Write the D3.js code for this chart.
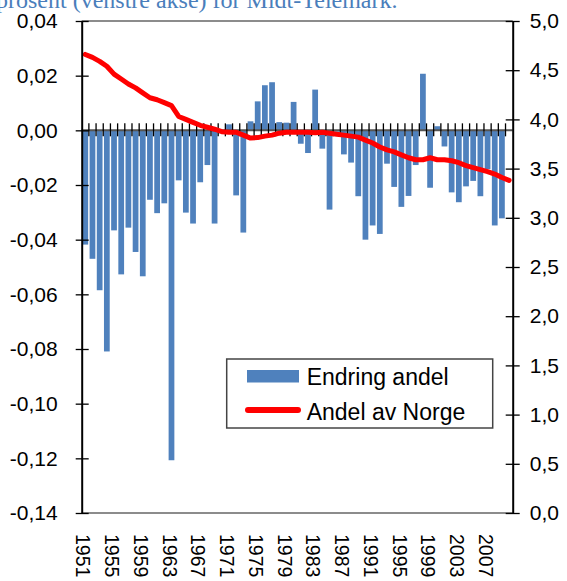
<!DOCTYPE html>
<html>
<head>
<meta charset="utf-8">
<script src="https://cdn.jsdelivr.net/npm/d3@7"></script>
<style>
  body { margin: 0; background: #fff; }
  svg { display: block; }
</style>
</head>
<body>
<div id="chart"></div>
<script>
const years = [1951, 1952, 1953, 1954, 1955, 1956, 1957, 1958, 1959, 1960,
    1961, 1962, 1963, 1964, 1965, 1966, 1967, 1968, 1969, 1970,
    1971, 1972, 1973, 1974, 1975, 1976, 1977, 1978, 1979, 1980,
    1981, 1982, 1983, 1984, 1985, 1986, 1987, 1988, 1989, 1990,
    1991, 1992, 1993, 1994, 1995, 1996, 1997, 1998, 1999, 2000,
    2001, 2002, 2003, 2004, 2005, 2006, 2007, 2008, 2009, 2010]

// endring andel (venstre akse)
const endring = [-0.0418, -0.047, -0.0585, -0.0809, -0.0366, -0.0527, -0.0356, -0.0445, -0.0534, -0.0254,
    -0.0303, -0.0267, -0.1207, -0.0183, -0.0301, -0.0341, -0.019, -0.0127, -0.0341, -0.001,
    0.0022, -0.0238, -0.0374, 0.0033, 0.0106, 0.0165, 0.0176, 0.003, 0.0028, 0.0104,
    -0.0049, -0.0083, 0.0149, -0.0067, -0.029, -0.0005, -0.0088, -0.0118, -0.0241, -0.040,
    -0.0348, -0.0379, -0.0122, -0.0207, -0.028, -0.024, -0.0127, 0.0207, -0.021, 0.0015,
    -0.0059, -0.0227, -0.0263, -0.0205, -0.0185, -0.0241, -0.0142, -0.0348, -0.0322, null]

// andel av Norge (høyre akse)
const andel = [4.66, 4.63, 4.59, 4.54, 4.46, 4.41, 4.36, 4.32, 4.27, 4.22,
    4.20, 4.17, 4.14, 4.03, 4.00, 3.97, 3.94, 3.92, 3.90, 3.875,
    3.87, 3.87, 3.84, 3.81, 3.815, 3.83, 3.84, 3.86, 3.87, 3.87,
    3.87, 3.87, 3.865, 3.87, 3.86, 3.85, 3.84, 3.83, 3.82, 3.79,
    3.76, 3.72, 3.69, 3.67, 3.64, 3.61, 3.59, 3.59, 3.61, 3.59,
    3.59, 3.58, 3.56, 3.53, 3.51, 3.49, 3.47, 3.445, 3.41, 3.38]

const leftTicks = [-0.14, -0.12, -0.10, -0.08, -0.06, -0.04, -0.02, 0, 0.02, 0.04]
const rightTicks = [0, 0.5, 1, 1.5, 2, 2.5, 3, 3.5, 4, 4.5, 5]
const yearLabels = [1951, 1955, 1959, 1963, 1967, 1971, 1975, 1979, 1983, 1987, 1991, 1995, 1999, 2003, 2007]

const titleText = "prosent (venstre akse) for Midt-Telemark."
const seriesNames = ["Endring andel", "Andel av Norge"]

const W = 567, H = 581
const pLeft = 81.7, pRight = 512.7, pTop = 21, pBottom = 513
const font = "'Liberation Sans', Arial, sans-serif"

const no = d3.formatLocale({decimal: ",", thousands: " ", grouping: [3], currency: ["", " kr"], minus: "-"})

let svg = d3.select("#chart")
    .append("svg")
    .attr("width", W)
    .attr("height", H)

let x = d3.scaleBand()
    .domain(years)
    .range([pLeft, pRight])
    .paddingInner(0.2)
    .paddingOuter(0.1)

let yL = d3.scaleLinear()
    .domain([-0.14, 0.04])
    .range([pBottom, pTop])

let yR = d3.scaleLinear()
    .domain([0, 5])
    .range([pBottom, pTop])

// title, cut at top of picture
svg.append("text")
    .attr("x", -4)
    .attr("y", 8)
    .attr("fill", "#4a7ebb")
    .style("font-family", "'Liberation Serif', 'Times New Roman', serif")
    .style("font-size", "24px")
    .text(titleText)

// plot border top / bottom
svg.append("line")
    .attr("x1", pLeft).attr("x2", pRight)
    .attr("y1", pTop).attr("y2", pTop)
    .attr("stroke", "#8c8c8c").attr("stroke-width", 2)
svg.append("line")
    .attr("x1", pLeft).attr("x2", pRight)
    .attr("y1", pBottom).attr("y2", pBottom)
    .attr("stroke", "#8c8c8c").attr("stroke-width", 2)

// bars
svg.append("g")
    .selectAll("rect")
    .data(years.map((yr, i) => ({yr: yr, v: endring[i]})).filter(d => d.v != null))
    .join("rect")
    .attr("x", d => x(d.yr))
    .attr("width", x.bandwidth())
    .attr("y", d => yL(Math.max(0, d.v)))
    .attr("height", d => Math.abs(yL(d.v) - yL(0)))
    .attr("fill", "#4f81bd")

// category axis at zero
let y0 = yL(0)
svg.append("line")
    .attr("x1", pLeft).attr("x2", pRight)
    .attr("y1", y0).attr("y2", y0)
    .attr("stroke", "#555").attr("stroke-width", 2)
svg.append("g")
    .selectAll("line")
    .data(years.slice(1))
    .join("line")
    .attr("x1", d => x(d) - (x.step() - x.bandwidth()) / 2)
    .attr("x2", d => x(d) - (x.step() - x.bandwidth()) / 2)
    .attr("y1", y0 - 7)
    .attr("y2", y0 + 6)
    .attr("stroke", "#000")
    .attr("stroke-width", 1.3)

// line
svg.append("path")
    .datum(andel)
    .attr("fill", "none")
    .attr("stroke", "#ff0000")
    .attr("stroke-width", 5)
    .attr("stroke-linejoin", "round")
    .attr("stroke-linecap", "round")
    .attr("d", d3.line()
        .x((d, i) => x(years[i]) + x.bandwidth() / 2)
        .y(d => yR(d)))

// left axis
svg.append("g")
    .attr("transform", `translate(${pLeft},0)`)
    .call(d3.axisLeft(yL).tickValues(leftTicks).tickFormat(no.format(".2f")).tickSizeOuter(0))
    .call(g => g.select(".domain").attr("stroke", "#000").attr("stroke-width", 2))
    .call(g => g.selectAll(".tick line").attr("x1", 7).attr("x2", -6).attr("stroke-width", 1.3))
    .call(g => g.selectAll(".tick text")
        .attr("x", -24)
        .attr("fill", "#000")
        .style("font-family", font)
        .style("font-size", "21px"))

// right axis
svg.append("g")
    .attr("transform", `translate(${pRight},0)`)
    .call(d3.axisRight(yR).tickValues(rightTicks).tickFormat(no.format(".1f")).tickSizeOuter(0))
    .call(g => g.select(".domain").attr("stroke", "#000").attr("stroke-width", 2))
    .call(g => g.selectAll(".tick line").attr("x1", -7).attr("x2", 7).attr("stroke-width", 1.3))
    .call(g => g.selectAll(".tick text")
        .attr("x", 17)
        .attr("fill", "#000")
        .style("font-family", font)
        .style("font-size", "21px"))

// year labels, rotated
svg.append("g")
    .selectAll("text")
    .data(yearLabels)
    .join("text")
    .attr("transform", d => `translate(${x(d) + x.bandwidth() / 2 - 2},534) rotate(90)`)
    .attr("dy", "0.35em")
    .style("font-family", font)
    .style("font-size", "19.5px")
    .text(d => d)

// legend
let lg = svg.append("g")
lg.append("rect")
    .attr("x", 226.7).attr("y", 359)
    .attr("width", 266).attr("height", 69)
    .attr("fill", "#fff")
    .attr("stroke", "#444").attr("stroke-width", 1.5)
lg.append("rect")
    .attr("x", 247).attr("y", 370)
    .attr("width", 52).attr("height", 12.5)
    .attr("fill", "#4f81bd")
lg.append("line")
    .attr("x1", 248).attr("x2", 298)
    .attr("y1", 410).attr("y2", 410)
    .attr("stroke", "#ff0000").attr("stroke-width", 6)
    .attr("stroke-linecap", "round")
lg.selectAll("text")
    .data(seriesNames)
    .join("text")
    .attr("x", 306.7)
    .attr("y", (d, i) => 385 + i * 35)
    .style("font-family", font)
    .style("font-size", "23px")
    .text(d => d)
</script>
</body>
</html>
